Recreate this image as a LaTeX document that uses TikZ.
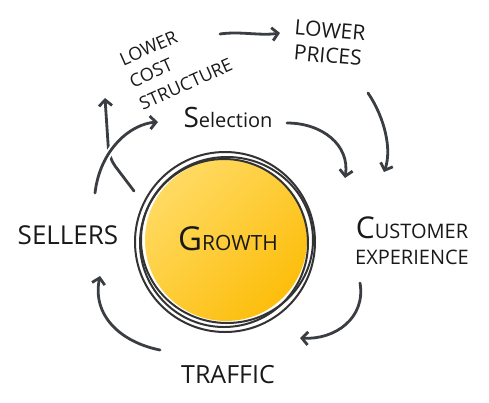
\documentclass[tikz,border=0pt]{standalone}
\usepackage{fontspec}
\setmainfont{Open Sans}
\usetikzlibrary{arrows.meta,positioning}
\definecolor{inkgrey}{HTML}{3A3D42}
\definecolor{sunlight}{HTML}{FFDA62}
\definecolor{sundark}{HTML}{FDBE0C}
\newcommand{\lowcap}[2]{{\fontsize{#1}{#1}\selectfont #2}}

\begin{document}
\begin{tikzpicture}[x=1pt,y=-1pt,
    word/.style={text=black!90, align=center, inner sep=1pt},
    flow/.style={draw=inkgrey, line width=2.8pt, line cap=round, -{Straight Barb[length=6pt,width=13pt]}},
    ring/.style={draw=black!80, line width=2pt}]
    \useasboundingbox (0,0) rectangle (489,402);

    % Growth circle
    \shade[top color=sunlight, bottom color=sundark, shading angle=45] (226,240) circle[radius=81];
    \draw[ring] (225,242) circle[radius=90];
    \draw[ring] (227,240) ellipse[x radius=86, y radius=83];
    \draw[ring] (224,243) circle[radius=84];
    \node[word] (growth) at (228,239) {\fontsize{33}{33}\selectfont G\lowcap{21}{ROWTH}};

    % Labels
    \node[word, rotate=24, align=left, font=\fontsize{18}{24}\selectfont] (cost) at (176,62) {LOWER\\COST\\STRUCTURE};
    \node[word, rotate=-5, font=\fontsize{21}{25}\selectfont] (prices) at (329,43) {LOWER\\PRICES};
    \node[word, font=\fontsize{20}{20}\selectfont] (selection) at (228,117) {{\fontsize{28}{28}\selectfont S}election};
    \node[word, font=\fontsize{26}{26}\selectfont] (sellers) at (68,235) {SELLERS};
    \node[word, font=\fontsize{20}{26}\selectfont] (customer) at (412,241) {{\fontsize{30}{30}\selectfont C}USTOMER\\EXPERIENCE};
    \node[word, font=\fontsize{25}{25}\selectfont] (traffic) at (228,375) {TRAFFIC};

    % Arrow ends
    \coordinate (cost-out) at (220,34);
    \coordinate (prices-in) at (280,33);
    \coordinate (prices-out) at (368,93);
    \coordinate (cx-in) at (384,172);
    \coordinate (sel-out) at (287,123);
    \coordinate (sel-cx) at (345,178);
    \coordinate (cx-out) at (360,283);
    \coordinate (traffic-in) at (300,338);
    \coordinate (traffic-out) at (160,350);
    \coordinate (sellers-in) at (100,276);
    \coordinate (sellers-out) at (95,193);
    \coordinate (sel-in) at (158,122);
    \coordinate (growth-out) at (134,191);
    \coordinate (cost-in) at (105,98);

    % Flywheel arrows
    \draw[flow] (cost-out) .. controls (240,31) and (260,36) .. (prices-in);
    \draw[flow] (prices-out) .. controls (385,118) and (392,150) .. (cx-in);
    \draw[flow] (sel-out) .. controls (322,123) and (350,145) .. (sel-cx);
    \draw[flow] (cx-out) .. controls (366,318) and (335,340) .. (traffic-in);
    \draw[flow] (traffic-out) .. controls (120,342) and (92,315) .. (sellers-in);
    \draw[flow, rounded corners=10pt] (growth-out) -- (109,158) -- (cost-in);
    \draw[flow, preaction={draw=white, line width=7pt, -}] (sellers-out) .. controls (100,150) and (130,124) .. (sel-in);
\end{tikzpicture}
\end{document}
